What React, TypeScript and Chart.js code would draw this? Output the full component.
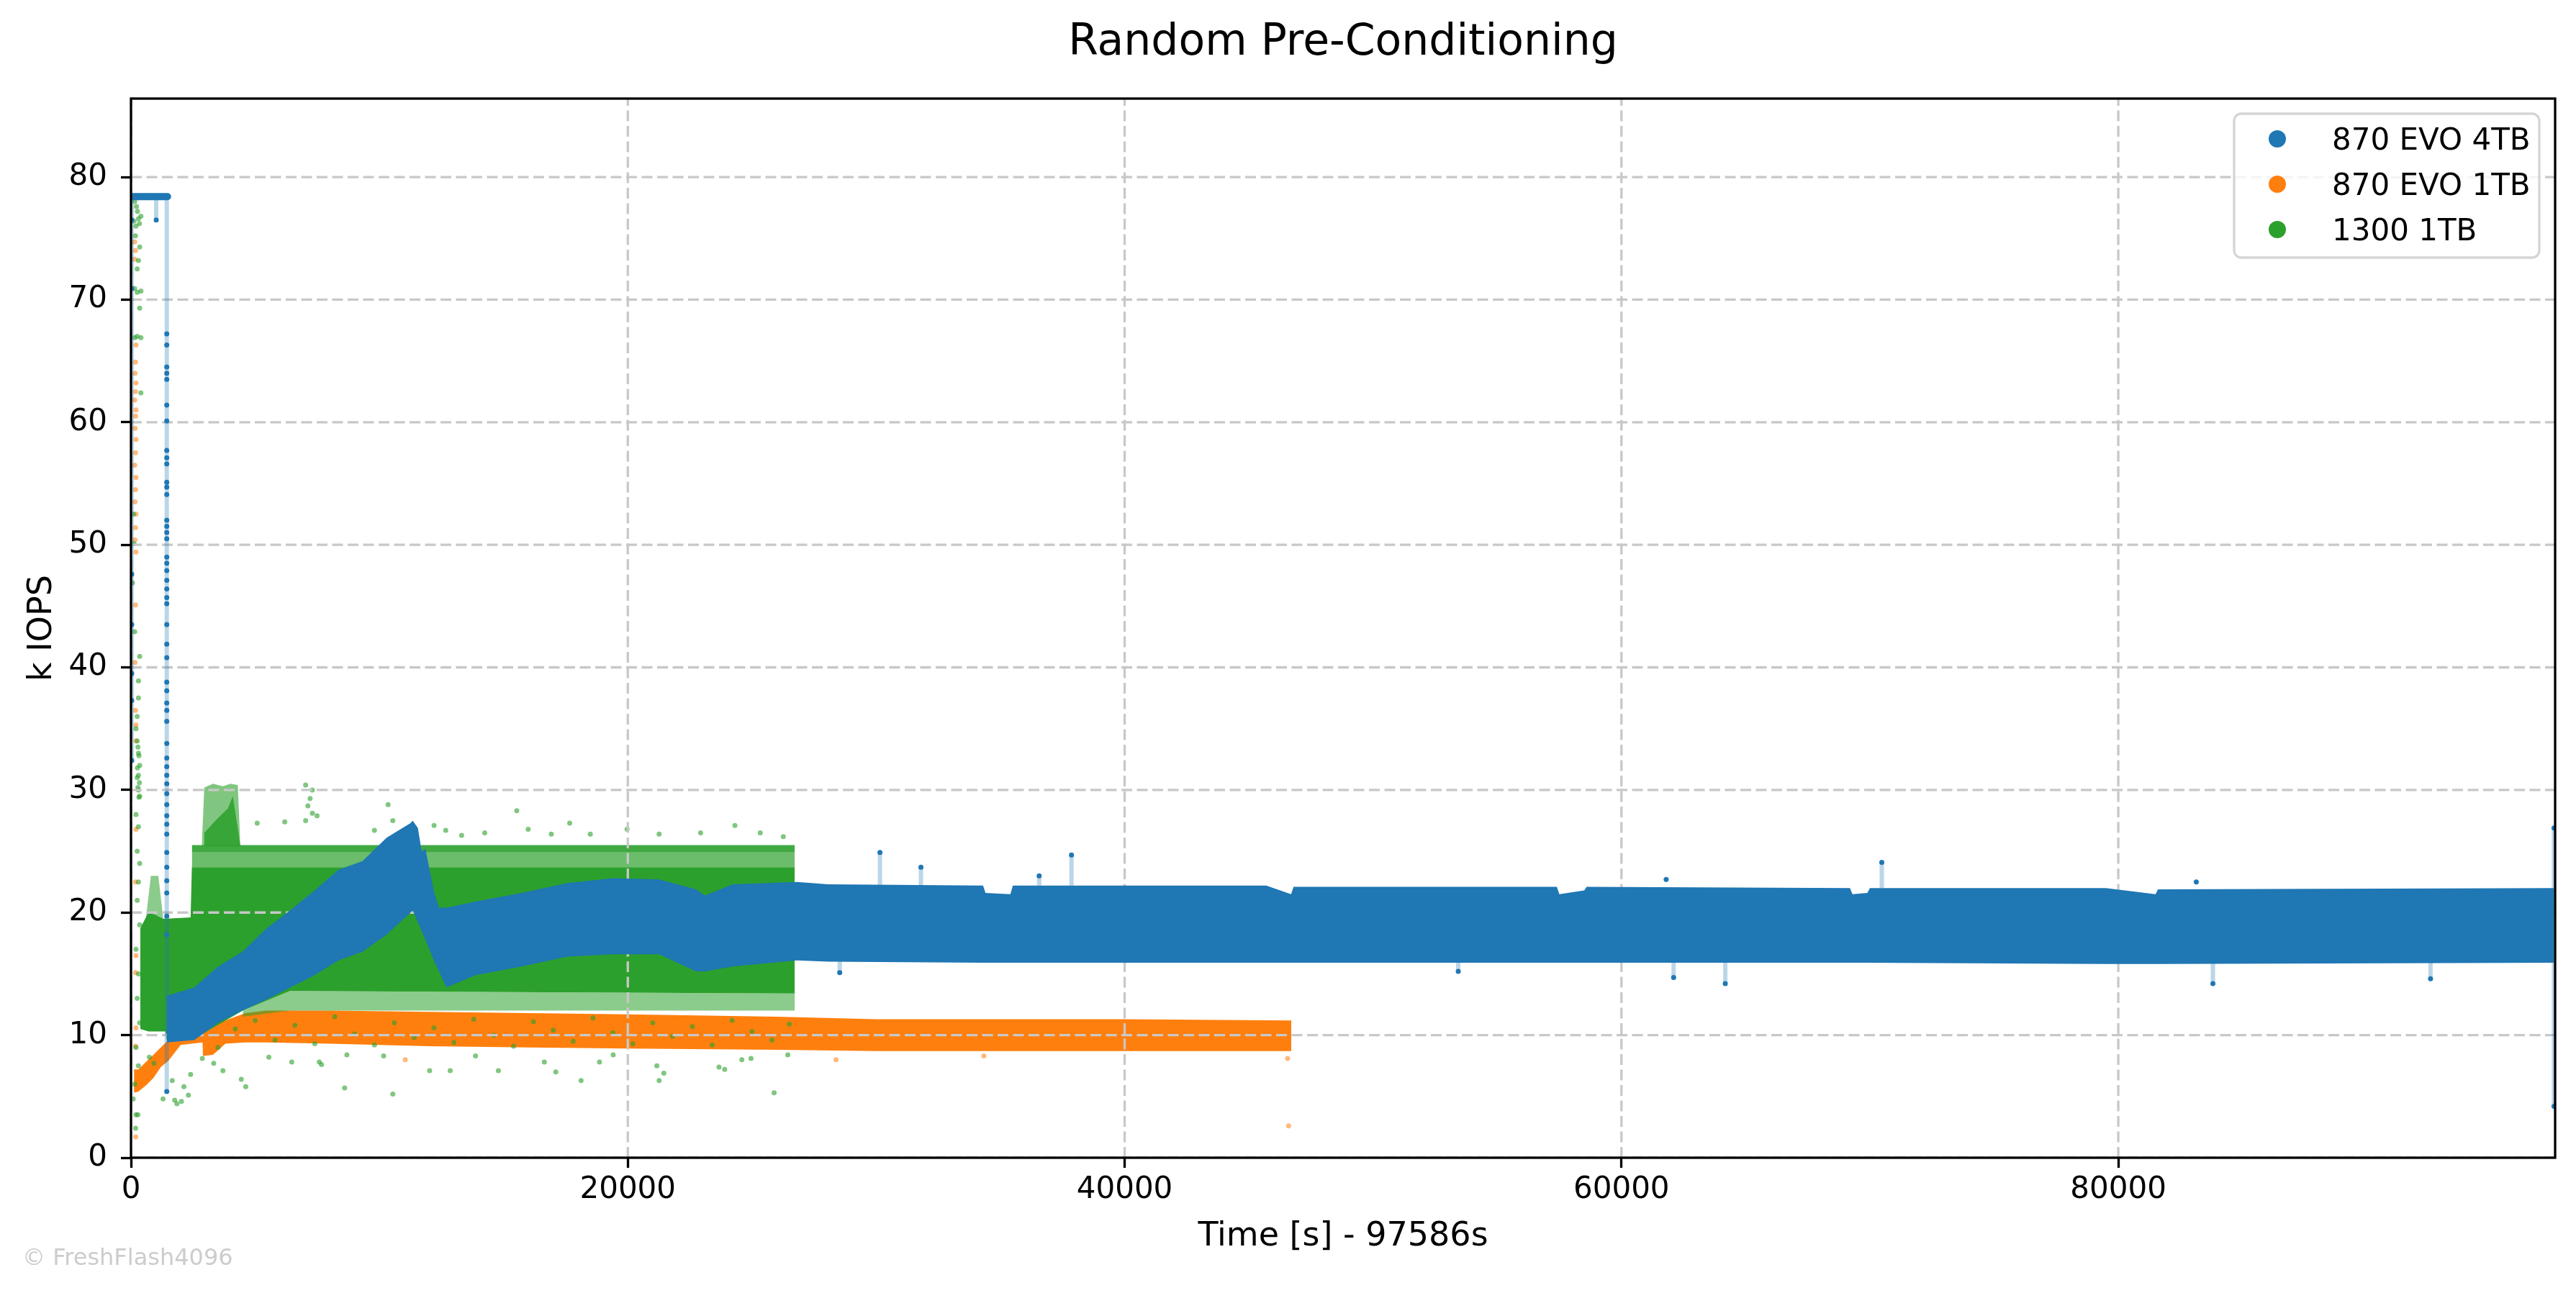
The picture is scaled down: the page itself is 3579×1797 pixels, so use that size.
import { useEffect, useRef } from "react"
import { Chart, registerables } from "chart.js"

Chart.register(...registerables)

const BLUE = "#1f77b4"
const ORANGE = "#ff7f0e"
const GREEN = "#2ca02c"
const FONT = '"DejaVu Sans"'

// axes
const X_MAX = 97586
const Y_MAX = 86.4
const xTicks = [0, 20000, 40000, 60000, 80000]
const yTicks = [0, 10, 20, 30, 40, 50, 60, 70, 80]
const seriesNames = ["870 EVO 4TB", "870 EVO 1TB", "1300 1TB"]

// 870 EVO 4TB - dense band (time, upper and lower edge of the cloud)
const blueT = [1440, 2550, 3510, 4480, 5450, 6420, 7390, 8350, 9320, 10290, 11250, 11340, 11550, 11700, 11850, 12210, 12400, 12700, 13870, 15720, 17570, 19420, 21260, 22740, 23110, 24220, 26810, 28070, 34300, 34400, 35400, 35500, 45700, 46700, 46800, 57400, 57500, 58500, 58600, 69200, 69300, 69900, 70000, 79500, 81500, 81600, 97540]
const blueHi = [13.2, 13.9, 15.6, 16.8, 18.7, 20.2, 21.8, 23.5, 24.2, 26.1, 27.3, 27.5, 26.9, 25.0, 25.2, 21.6, 20.4, 20.4, 20.9, 21.6, 22.4, 22.8, 22.7, 21.9, 21.4, 22.3, 22.5, 22.3, 22.2, 21.6, 21.5, 22.2, 22.2, 21.5, 22.1, 22.1, 21.5, 21.8, 22.1, 22.0, 21.5, 21.6, 22.0, 22.0, 21.5, 21.9, 22.0]
const blueLo = [9.4, 9.6, 11.0, 12.0, 12.9, 13.9, 14.9, 16.1, 16.8, 18.2, 20.0, 20.2, 19.2, 18.5, 17.8, 16.0, 15.2, 13.9, 14.9, 15.6, 16.4, 16.6, 16.6, 15.2, 15.2, 15.6, 16.1, 16.0, 15.9, 15.9, 15.9, 15.9, 15.9, 15.9, 15.9, 15.9, 15.9, 15.9, 15.9, 15.9, 15.9, 15.9, 15.9, 15.8, 15.8, 15.8, 15.9]
// initial plateau
const bluePlateauT = [30, 1470]
const bluePlateauV = [78.4, 78.4]
// connecting line jumps (drawn light)
const blueJumpT = [30, 1015, 1440, 28530, 30150, 31800, 36560, 37860, 53430, 62100, 64180, 70480, 83810, 92570, 97540]
const blueJumpFrom = [78.4, 78.4, 78.4, 16.0, 22.2, 22.2, 22.2, 22.2, 16.0, 16.0, 16.0, 22.0, 16.0, 16.0, 26.9]
const blueJumpTo = [32.4, 76.5, 5.4, 15.1, 24.9, 23.7, 23.0, 24.7, 15.2, 14.7, 14.2, 24.1, 14.2, 14.6, 4.2]
// points on the drop at ~1440 s
const blueDropT = 1440
const blueDropV = [67.2, 66.3, 64.5, 64.0, 63.5, 61.4, 60.1, 57.7, 57.1, 56.6, 55.1, 54.7, 54.1, 52.0, 51.5, 51.0, 50.5, 49.0, 48.5, 47.9, 47.1, 46.4, 45.7, 45.2, 43.5, 41.9, 40.8, 38.8, 38.1, 37.1, 36.5, 35.6, 33.8, 32.6, 31.9, 31.2, 30.5, 29.7, 28.8, 27.9, 27.2, 26.4, 24.9, 23.7, 22.6, 21.6, 19.7, 18.2, 5.4]
const blueStartT = 30
const blueStartV = [76.5, 70.9, 47.6, 43.5, 39.5, 37.3, 32.4]
const blueMarkT = [1015, 28530, 30150, 31800, 36560, 37860, 53430, 61800, 62100, 64180, 70480, 83140, 83810, 92570, 97540, 97540]
const blueMarkV = [76.5, 15.1, 24.9, 23.7, 23.0, 24.7, 15.2, 22.7, 14.7, 14.2, 24.1, 22.5, 14.2, 14.6, 26.9, 4.2]

// 870 EVO 1TB - dense band
const orangeT = [120, 300, 600, 900, 1200, 1500, 2000, 2880, 2900, 3300, 3800, 4600, 5450, 8000, 12000, 16000, 20000, 26000, 30000, 40000, 46710]
const orangeHi = [7.2, 7.2, 7.8, 8.4, 9.0, 9.6, 10.2, 10.5, 10.8, 11.0, 11.2, 11.8, 12.0, 12.0, 11.9, 11.8, 11.7, 11.5, 11.3, 11.3, 11.2]
const orangeLo = [5.3, 5.4, 5.9, 6.5, 7.4, 7.9, 9.2, 9.4, 8.3, 8.4, 9.3, 9.4, 9.4, 9.3, 9.1, 9.0, 8.9, 8.8, 8.7, 8.7, 8.7]
// scattered orange points
const orangeDotT = [150, 180, 150, 200, 180, 160, 200, 180, 150, 200, 180, 160, 200, 180, 150, 200, 180, 160, 200, 180, 160, 200, 180, 160, 200, 180, 200, 200, 180, 200, 180, 200, 180, 190, 11040, 28380, 34330, 46560, 46600]
const orangeDotV = [74.7, 74.0, 73.3, 66.3, 64.9, 64.0, 63.2, 62.5, 61.8, 61.0, 60.5, 59.5, 58.6, 57.5, 56.5, 55.5, 54.5, 53.5, 52.5, 51.4, 50.4, 49.4, 45.1, 40.4, 35.3, 36.5, 34.0, 26.8, 22.5, 16.5, 15.1, 10.6, 9.1, 1.7, 8.0, 8.0, 8.3, 8.1, 2.6]

// 1300 1TB - solid core of the cloud
const greenT = [370, 700, 1000, 1300, 1390, 1440, 2400, 2450, 4500, 6400, 26720]
const greenHi = [18.7, 20.0, 19.8, 19.5, 19.5, 19.5, 19.6, 23.7, 23.7, 23.7, 23.7]
const greenLo = [10.5, 10.3, 10.3, 10.3, 10.3, 9.6, 9.6, 9.6, 12.0, 13.6, 13.4]
// upper row and sparser fringes
const greenRowT = [2450, 26720]
const greenRowHi = [25.5, 25.5]
const greenRowLo = [24.9, 24.9]
const greenUpT = [2450, 26720]
const greenUpHi = [24.9, 24.9]
const greenUpLo = [23.7, 23.7]
const greenDownT = [4500, 6400, 26720]
const greenDownHi = [12.0, 13.6, 13.4]
const greenDownLo = [11.5, 12.0, 12.0]
const greenEarlyT = [600, 800, 1100, 1300]
const greenEarlyHi = [19.5, 23.0, 23.0, 19.5]
const greenEarlyLo = [19.5, 19.8, 19.7, 19.5]
const greenBurstT = [2850, 2950, 3300, 3700, 4000, 4300, 4400]
const greenBurstHi = [25.5, 30.2, 30.5, 30.3, 30.5, 30.4, 25.5]
const greenBurstLo = [25.4, 25.4, 25.4, 25.4, 25.4, 25.4, 25.4]
const greenCoreT = [2950, 3400, 3900, 4100, 4400]
const greenCoreHi = [26.5, 27.5, 28.5, 29.5, 25.5]
const greenCoreLo = [25.4, 25.4, 25.4, 25.4, 25.4]
// scattered green points
const greenDotT = [150, 220, 260, 300, 340, 400, 120, 200, 180, 350, 300, 250, 150, 250, 400, 350, 150, 250, 400, 400, 100, 120, 60, 150, 350, 300, 300, 250, 200, 250, 300, 350, 250, 300, 350, 200, 300, 250, 350, 300, 250, 350, 200, 300, 250, 350, 200, 300, 150, 200, 185, 277, 90, 280, 320, 260, 300, 340, 280, 320,
  740, 925, 1290, 1660, 1760, 1850, 2030, 2130, 2310, 2400, 2870, 3330, 3700, 4440, 4620, 5550, 6470, 7580, 7670, 8600, 8690, 10170, 10540, 12020, 12850, 13870, 14790, 16640, 17100, 18120, 18860, 19410, 21170, 21260, 21450, 23670, 23900, 24590, 24960, 25890, 26440,
  3500, 4200, 5000, 5800, 6600, 7400, 8200, 9000, 9800, 10600, 11400, 12200, 13000, 13800, 14600, 15400, 16200, 17000, 17800, 18600, 19400, 20200, 21000, 21800, 22600, 23400, 24200, 25000, 25800, 26500,
  5080, 6190, 7030, 7300, 7210, 7120, 7300, 7490, 7030, 9800, 10350, 10540, 12200, 12670, 13310, 14240, 15530, 15990, 16920, 17660, 18490, 19970, 21260, 22930, 24310, 25330, 26260]
const greenDotV = [78.0, 77.6, 77.2, 76.6, 76.2, 76.8, 76.4, 76.0, 75.2, 74.3, 73.2, 72.5, 70.9, 70.6, 70.7, 69.3, 66.9, 67.0, 66.9, 62.4, 52.5, 50.1, 46.9, 42.9, 40.9, 38.9, 37.5, 36.0, 35.0, 34.0, 33.0, 32.0, 31.0, 30.0, 29.5, 28.0, 27.0, 25.0, 24.0, 22.5, 21.0, 19.0, 17.0, 15.0, 13.0, 11.0, 9.0, 7.5, 6.0, 3.5, 2.4, 3.5, 4.8, 33.5, 32.8, 31.8, 31.2, 30.6, 30.2, 29.4,
  8.2, 7.7, 4.8, 6.3, 4.7, 4.4, 4.6, 5.8, 5.1, 6.8, 8.1, 7.7, 7.1, 6.4, 5.8, 8.2, 7.8, 7.8, 7.6, 5.7, 8.4, 8.3, 5.2, 7.1, 7.1, 8.3, 7.1, 7.8, 7.0, 6.3, 7.8, 8.4, 7.5, 6.3, 6.9, 7.4, 7.2, 8.0, 8.1, 5.3, 8.4,
  9.0, 10.5, 11.2, 9.6, 10.8, 9.3, 11.5, 10.1, 9.2, 11.0, 9.8, 10.6, 9.4, 11.3, 10.0, 9.1, 11.1, 10.4, 9.5, 11.4, 10.2, 9.3, 11.0, 9.9, 10.7, 9.2, 11.2, 10.3, 9.6, 10.9,
  27.3, 27.4, 30.4, 30.0, 29.3, 28.7, 28.1, 27.9, 27.5, 26.7, 28.8, 27.5, 27.1, 26.7, 26.3, 26.5, 28.3, 26.8, 26.4, 27.3, 26.4, 26.8, 26.4, 26.5, 27.1, 26.5, 26.2]

const alpha = (hex: string, a: number) => {
  const n = parseInt(hex.slice(1), 16)
  return `rgba(${(n >> 16) & 255},${(n >> 8) & 255},${n & 255},${a})`
}

function drawGrid(chart: any) {
  const { ctx, chartArea: a, scales } = chart
  ctx.save()
  ctx.beginPath()
  ctx.rect(a.left, a.top, a.right - a.left, a.bottom - a.top)
  ctx.clip()
  ctx.strokeStyle = "#c8c8c8"
  ctx.lineWidth = 3.3
  ctx.setLineDash([15, 6.5])
  for (const v of xTicks) {
    const px = scales.x.getPixelForValue(v)
    ctx.beginPath()
    ctx.moveTo(px, a.bottom)
    ctx.lineTo(px, a.top)
    ctx.stroke()
  }
  for (const v of yTicks) {
    const py = scales.y.getPixelForValue(v)
    ctx.beginPath()
    ctx.moveTo(a.left, py)
    ctx.lineTo(a.right, py)
    ctx.stroke()
  }
  ctx.restore()
}

const decorPlugin = {
  id: "decor",
  afterDatasetDraw(chart: any, args: any) {
    if (chart.data.datasets[args.index].gridAfter) drawGrid(chart)
  },
  afterDraw(chart: any) {
    const { ctx, chartArea: a } = chart
    const cx = (a.left + a.right) / 2
    ctx.save()
    // frame
    ctx.strokeStyle = "#000"
    ctx.lineWidth = 3.3
    ctx.strokeRect(a.left, a.top, a.right - a.left, a.bottom - a.top)

    // legend
    const lx = a.right - 446
    const ly = a.top + 21
    const lw = 424
    const lh = 200
    const r = 10
    ctx.beginPath()
    ctx.moveTo(lx + r, ly)
    ctx.arcTo(lx + lw, ly, lx + lw, ly + lh, r)
    ctx.arcTo(lx + lw, ly + lh, lx, ly + lh, r)
    ctx.arcTo(lx, ly + lh, lx, ly, r)
    ctx.arcTo(lx, ly, lx + lw, ly, r)
    ctx.closePath()
    ctx.fillStyle = "rgba(255,255,255,0.8)"
    ctx.fill()
    ctx.strokeStyle = "#d5d5d5"
    ctx.lineWidth = 3.3
    ctx.stroke()
    const colors = [BLUE, ORANGE, GREEN]
    ctx.font = `42px ${FONT}`
    ctx.textAlign = "left"
    ctx.textBaseline = "alphabetic"
    seriesNames.forEach((name, i) => {
      const rowY = ly + 35 + i * 63
      ctx.fillStyle = colors[i]
      ctx.beginPath()
      ctx.arc(lx + 60, rowY, 12, 0, Math.PI * 2)
      ctx.fill()
      ctx.fillStyle = "#000"
      ctx.fillText(name, lx + 136, rowY + 15)
    })

    // title and axis labels
    ctx.fillStyle = "#000"
    ctx.textAlign = "center"
    ctx.font = `60px ${FONT}`
    ctx.fillText("Random Pre-Conditioning", cx, 76)
    ctx.font = `46px ${FONT}`
    ctx.fillText("Time [s] - 97586s", cx, 1731)
    ctx.translate(71, (a.top + a.bottom) / 2)
    ctx.rotate(-Math.PI / 2)
    ctx.fillText("k IOPS", 0, 0)
    ctx.setTransform(1, 0, 0, 1, 0, 0)

    // watermark
    ctx.fillStyle = "#cccccc"
    ctx.textAlign = "left"
    ctx.font = `32px ${FONT}`
    ctx.fillText("\u00a9 FreshFlash4096", 31, 1758)
    ctx.restore()
  },
}

const pts = (t: number[], v: number[]) => t.map((x, i) => ({ x, y: v[i] }))
const column = (t: number, v: number[]) => v.map((y) => ({ x: t, y }))
const jumps = (t: number[], from: number[], to: number[]) =>
  t.flatMap((x, i) => [
    { x, y: from[i] },
    { x, y: to[i] },
    { x, y: null },
  ])

function buildDatasets() {
  const datasets: any[] = []
  const band = (t: number[], lo: number[], hi: number[], color: string, order: number) => {
    const loIdx = datasets.length
    datasets.push({
      data: pts(t, lo),
      borderWidth: 0,
      borderColor: "transparent",
      pointRadius: 0,
      fill: false,
      order,
    })
    datasets.push({
      data: pts(t, hi),
      borderWidth: 0,
      borderColor: "transparent",
      pointRadius: 0,
      fill: { target: loIdx },
      backgroundColor: color,
      order,
    })
  }
  const dots = (data: any[], color: string, order: number, extra: any = {}) => {
    datasets.push({
      data,
      showLine: false,
      pointRadius: 3.5,
      pointBorderWidth: 0,
      pointBackgroundColor: color,
      order,
      ...extra,
    })
  }

  // 870 EVO 1TB
  band(orangeT, orangeLo, orangeHi, ORANGE, 60)
  dots(pts(orangeDotT, orangeDotV), alpha(ORANGE, 0.55), 59)

  // 1300 1TB
  band(greenDownT, greenDownLo, greenDownHi, alpha(GREEN, 0.55), 55)
  band(greenUpT, greenUpLo, greenUpHi, alpha(GREEN, 0.7), 54)
  band(greenEarlyT, greenEarlyLo, greenEarlyHi, alpha(GREEN, 0.55), 53)
  band(greenBurstT, greenBurstLo, greenBurstHi, alpha(GREEN, 0.6), 52)
  band(greenCoreT, greenCoreLo, greenCoreHi, alpha(GREEN, 0.85), 51)
  band(greenRowT, greenRowLo, greenRowHi, alpha(GREEN, 0.9), 50)
  band(greenT, greenLo, greenHi, GREEN, 45)
  dots(pts(greenDotT, greenDotV), alpha(GREEN, 0.6), 40, { gridAfter: true })

  // 870 EVO 4TB
  datasets.push({
    data: jumps(blueJumpT, blueJumpFrom, blueJumpTo),
    borderColor: alpha(BLUE, 0.3),
    borderWidth: 6,
    pointRadius: 0,
    spanGaps: false,
    fill: false,
    order: 20,
  })
  band(blueT, blueLo, blueHi, BLUE, 15)
  datasets.push({
    data: pts(bluePlateauT, bluePlateauV),
    borderColor: BLUE,
    borderWidth: 10,
    borderCapStyle: "round",
    pointRadius: 0,
    fill: false,
    order: 14,
  })
  dots(column(blueDropT, blueDropV), BLUE, 10)
  dots(column(blueStartT, blueStartV), BLUE, 10)
  dots(pts(blueMarkT, blueMarkV), BLUE, 10)
  return datasets
}

export default function App() {
  const chartRef = useRef<HTMLCanvasElement>(null)
  const chartInstance = useRef<Chart | null>(null)

  useEffect(() => {
    document.body.style.margin = "0"
    if (!chartRef.current) return
    if (chartInstance.current) chartInstance.current.destroy()
    const ctx = chartRef.current.getContext("2d")
    if (!ctx) return

    const tickFont = { family: "DejaVu Sans", size: 42 }

    chartInstance.current = new Chart(ctx, {
      type: "line",
      data: { datasets: buildDatasets() },
      options: {
        animation: false,
        responsive: true,
        maintainAspectRatio: false,
        devicePixelRatio: 1,
        events: [],
        layout: { padding: { top: 137, right: 29, left: 0, bottom: 0 } },
        plugins: {
          legend: { display: false },
          title: { display: false },
          tooltip: { enabled: false },
        },
        elements: { line: { tension: 0 } },
        scales: {
          x: {
            type: "linear",
            min: 0,
            max: X_MAX,
            afterBuildTicks: (scale: any) => {
              scale.ticks = xTicks.map((value) => ({ value }))
            },
            afterFit: (scale: any) => {
              scale.height = 188
            },
            grid: {
              drawOnChartArea: false,
              tickLength: 14,
              tickWidth: 3.3,
              tickColor: "#000",
            },
            border: { display: false },
            ticks: {
              color: "#000",
              font: tickFont,
              padding: 6,
              maxRotation: 0,
              autoSkip: false,
              callback: (v: any) => String(v),
            },
          },
          y: {
            type: "linear",
            min: 0,
            max: Y_MAX,
            afterBuildTicks: (scale: any) => {
              scale.ticks = yTicks.map((value) => ({ value }))
            },
            afterFit: (scale: any) => {
              scale.width = 182
            },
            grid: {
              drawOnChartArea: false,
              tickLength: 14,
              tickWidth: 3.3,
              tickColor: "#000",
            },
            border: { display: false },
            ticks: {
              color: "#000",
              font: tickFont,
              padding: 19,
              autoSkip: false,
              callback: (v: any) => String(v),
            },
          },
        },
      },
      plugins: [decorPlugin],
    } as any)

    return () => {
      if (chartInstance.current) {
        chartInstance.current.destroy()
        chartInstance.current = null
      }
    }
  }, [])

  return (
    <div style={{ width: 3579, height: 1797, position: "relative" }}>
      <canvas ref={chartRef} />
    </div>
  )
}
